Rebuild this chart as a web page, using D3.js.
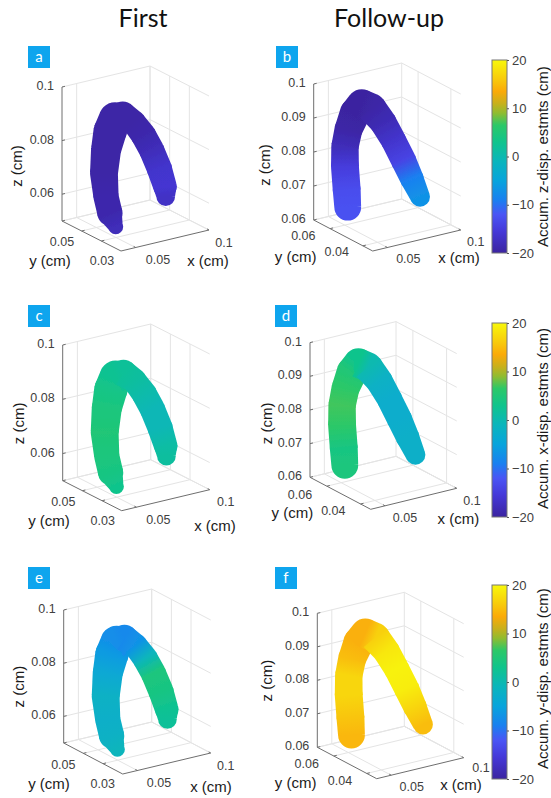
<!DOCTYPE html>
<html>
<head>
<meta charset="utf-8">
<script src="https://cdnjs.cloudflare.com/ajax/libs/d3/7.8.5/d3.min.js"></script>
<style>
  html, body { margin: 0; padding: 0; background: #fff; }
  svg { display: block; }
  text { font-family: "Liberation Sans", Arial, sans-serif; }
  .tick-label { font-size: 12.5px; fill: #404040; }
  .axis-label { font-size: 15px; fill: #1a1a1a; }
  .cbar-tick { font-size: 13px; fill: #404040; }
  .cbar-label { font-size: 15px; fill: #1a1a1a; }
  .head { font-family: Lato, sans-serif; font-size: 25px; fill: #111; }
  .badge-text { font-family: Lato, sans-serif; font-size: 15px; fill: #fff; }
</style>
</head>
<body>
<script>
// centreline of the vessel, cm
var firstX = [0.0565, 0.0526, 0.0499, 0.0485, 0.0499, 0.0526, 0.0560, 0.0613, 0.0685, 0.0753, 0.0810, 0.0862, 0.0901, 0.0906];
var firstY = [0.04, 0.04, 0.04, 0.04, 0.04, 0.04, 0.04, 0.04, 0.04, 0.04, 0.04, 0.04, 0.04, 0.04];
var firstZ = [0.0513, 0.0568, 0.0634, 0.0723, 0.0808, 0.0873, 0.0918, 0.0924, 0.0889, 0.0831, 0.0767, 0.0692, 0.0619, 0.0581];
var firstR = [0.0028, 0.0047, 0.0047, 0.0052, 0.0056, 0.0062, 0.0060, 0.0050, 0.0045, 0.0047, 0.0047, 0.0047, 0.0044, 0.0035];

var followX = [0.0431, 0.0424, 0.0412, 0.0412, 0.0435, 0.0480, 0.0526, 0.0594, 0.0669, 0.0741, 0.0810, 0.0867, 0.0924];
var followY = [0.052, 0.052, 0.052, 0.052, 0.052, 0.052, 0.052, 0.052, 0.052, 0.052, 0.052, 0.052, 0.052];
var followZ = [0.0680, 0.0731, 0.0801, 0.0860, 0.0907, 0.0951, 0.0974, 0.0954, 0.0907, 0.0846, 0.0780, 0.0720, 0.0660];
var followR = [0.0050, 0.0052, 0.0052, 0.0051, 0.0052, 0.0057, 0.0055, 0.0055, 0.0050, 0.0047, 0.0047, 0.0044, 0.0037];

// accumulated displacement at each centreline point, cm
var valuesA = [-18, -19, -19, -19.5, -19.5, -19.5, -19.5, -19.5, -19.5, -19, -18, -16.5, -16, -17];
var valuesB = [-12.5, -13, -15, -18, -19.5, -20, -20, -19.5, -18.5, -16.5, -14, -9, -7];
var valuesC = [3, 4, 4.5, 5, 4.5, 3.5, 2.5, 2, 1.5, 0.5, -0.5, -0.5, 1, 1.5];
var valuesD = [4.5, 4, 6.5, 7, 6.5, 5, 3, 0, -2, -3, -3, -2.5, -2.5];
var valuesE = [-1, -2, -2.5, -2, -4, -6, -7.5, -8, -7, -1, 4.5, 4, 2.5, 2];
var valuesF = [14.5, 15.5, 17, 17, 15, 14, 14, 16.5, 18.5, 19.5, 19, 17, 15];

var xDomain = [0.04, 0.1];
var yDomainFirst = [0.01, 0.07];
var yDomainFollow = [0.034, 0.07];
var zDomainFirst = [0.05, 0.1];
var zDomainFollow = [0.06, 0.1];

var xTicks = [0.05, 0.1];
var yTicksFirst = [0.03, 0.05, 0.07];
var yTicksFollow = [0.04, 0.06];
var zTicksFirst = [0.06, 0.08, 0.1];
var zTicksFollow = [0.06, 0.07, 0.08, 0.09, 0.1];
var cbarTicks = [-20, -10, 0, 10, 20];

var width = 551, height = 798;

// parula-like ramp as it appears in the colorbars
var cmapDomain = [-20, -15.5, -12, -9, -5, -1, 3, 6.5, 9, 11, 13.5, 16, 20];
var cmapRange = ['#3b24a0', '#4538d8', '#4a55f5', '#1a80f0', '#08a4dc', '#0ab5bc', '#10c48c', '#2cc868', '#90bc30', '#c8b01c', '#fbaa08', '#f8ca0c', '#f8f80a'];
var color = d3.scaleLinear().domain(cmapDomain).range(cmapRange).clamp(true);

var rScale = d3.scaleLinear().domain([0, 0.05]).range([0, 134]);

var first = { xs: firstX, ys: firstY, zs: firstZ, rs: firstR, yDomain: yDomainFirst, zDomain: zDomainFirst, yTicks: yTicksFirst, zTicks: zTicksFirst };
var follow = { xs: followX, ys: followY, zs: followZ, rs: followR, yDomain: yDomainFollow, zDomain: zDomainFollow, yTicks: yTicksFollow, zTicks: zTicksFollow };

// o = front floor corner, xv / yv = floor edges, zh = height of box
var panels = [
  { id: 'a', set: first, values: valuesA, o: [121, 251], xv: [88, -21], yv: [-59, -30], zh: 134, badge: [28, 46],
    yt: [[102, 261, '0.03'], [62, 242, '0.05']], xt: [[158, 260, '0.05'], [224, 243, '0.1']],
    yl: [50, 261], xl: [208, 261], zl: [17, 166] },
  { id: 'b', set: follow, values: valuesB, o: [372.7, 251], xv: [88, -21], yv: [-59, -31], zh: 136, badge: [276, 46],
    yt: [[336.7, 252, '0.04'], [303.3, 236, '0.06']], xt: [[408.3, 259, '0.05'], [475.7, 242, '0.1']],
    yl: [295.7, 256.7], xl: [459, 258.3], zl: [265, 165] },
  { id: 'c', set: first, values: valuesC, o: [121.7, 510.7], xv: [88, -21], yv: [-59, -30], zh: 135.7, badge: [28, 305],
    yt: [[102.7, 520.7, '0.03'], [63.3, 501.7, '0.05']], xt: [[158.3, 520, '0.05'], [225.7, 502.3, '0.1']],
    yl: [49, 521], xl: [215, 526], zl: [19.3, 423.3] },
  { id: 'd', set: follow, values: valuesD, o: [370.7, 509.3], xv: [86, -21], yv: [-60.7, -32], zh: 134.7, badge: [275, 305],
    yt: [[333.3, 510.7, '0.04'], [300, 495, '0.06']], xt: [[405, 517.7, '0.05'], [472, 500.7, '0.1']],
    yl: [292.3, 513.3], xl: [458.3, 518.7], zl: [267.3, 423.3] },
  { id: 'e', set: first, values: valuesE, o: [122.7, 774], xv: [88, -21], yv: [-59, -31], zh: 133, badge: [28, 567],
    yt: [[102.7, 784.3, '0.03'], [63.3, 765, '0.05']], xt: [[159, 783.3, '0.05'], [225.7, 766, '0.1']],
    yl: [49, 784.3], xl: [211, 787.3], zl: [19.3, 686.7] },
  { id: 'f', set: follow, values: valuesF, o: [376.7, 778.7], xv: [87, -21], yv: [-59.4, -31.4], zh: 134, badge: [275, 567],
    yt: [[340, 780.7, '0.04'], [306.7, 764.3, '0.06']], xt: [[411.7, 787.3, '0.05'], [481, 768, '0.1']],
    yl: [295.7, 783.3], xl: [461, 785], zl: [267.3, 680.7] }
];

var colorbars = [
  { top: 60, bottom: 253, label: 'Accum. z-disp. estmts (cm)', lx: 542.7, ly: 156.7 },
  { top: 323, bottom: 517, label: 'Accum. x-disp. estmts (cm)', lx: 542.7, ly: 418.5 },
  { top: 585, bottom: 779, label: 'Accum. y-disp. estmts (cm)', lx: 543.3, ly: 678.7 }
];

var svg = d3.select('body').append('svg').attr('width', width).attr('height', height);
var defs = svg.append('defs');

defs.append('filter').attr('id', 'soft')
    .attr('x', '-10%').attr('y', '-10%').attr('width', '120%').attr('height', '120%')
  .append('feGaussianBlur').attr('stdDeviation', 0.5);

svg.append('text').attr('class', 'head').attr('x', 143).attr('y', 27).attr('text-anchor', 'middle').text('First');
svg.append('text').attr('class', 'head').attr('x', 389).attr('y', 27).attr('text-anchor', 'middle').text('Follow-up');

panels.forEach(drawPanel);
colorbars.forEach(drawColorbar);

function drawPanel(p) {
  var set = p.set;
  var g = svg.append('g').attr('class', 'panel-' + p.id);

  var xs = d3.scaleLinear().domain(xDomain).range([0, 1]);
  var ys = d3.scaleLinear().domain(set.yDomain).range([0, 1]);
  var zs = d3.scaleLinear().domain(set.zDomain).range([0, p.zh]);

  // data -> screen
  function project(x, y, z) {
    return [
      p.o[0] + xs(x) * p.xv[0] + ys(y) * p.yv[0],
      p.o[1] + xs(x) * p.xv[1] + ys(y) * p.yv[1] - zs(z)
    ];
  }

  var x0 = xDomain[0], x1 = xDomain[1];
  var y0 = set.yDomain[0], y1 = set.yDomain[1];
  var z0 = set.zDomain[0], z1 = set.zDomain[1];

  function seg(a, b, stroke, w) {
    g.append('line')
      .attr('x1', a[0]).attr('y1', a[1])
      .attr('x2', b[0]).attr('y2', b[1])
      .attr('stroke', stroke).attr('stroke-width', w);
  }

  var gridColor = '#e4e4e4';

  // back walls and floor grid
  set.zTicks.concat([z0]).forEach(function(z) {
    seg(project(x0, y1, z), project(x1, y1, z), gridColor, 1);
    seg(project(x1, y1, z), project(x1, y0, z), gridColor, 1);
  });
  xTicks.forEach(function(x) {
    seg(project(x, y1, z0), project(x, y1, z1), gridColor, 1);
    seg(project(x, y1, z0), project(x, y0, z0), gridColor, 1);
  });
  set.yTicks.forEach(function(y) {
    seg(project(x1, y, z0), project(x1, y, z1), gridColor, 1);
    seg(project(x0, y, z0), project(x1, y, z0), gridColor, 1);
  });

  // dark axis lines
  var axisColor = '#6e6e6e';
  seg(project(x0, y1, z0), project(x0, y1, z1), axisColor, 1);
  seg(project(x0, y1, z0), project(x0, y0, z0), axisColor, 1);
  seg(project(x0, y0, z0), project(x1, y0, z0), axisColor, 1);

  // tick marks
  set.zTicks.forEach(function(z) {
    var a = project(x0, y1, z);
    seg(a, [a[0] + 3, a[1] - 0.7], axisColor, 1);
    g.append('text').attr('class', 'tick-label')
      .attr('x', a[0] - 8).attr('y', a[1] + 3)
      .attr('text-anchor', 'end').text(d3.format('.2~f')(z));
  });
  set.yTicks.forEach(function(y) {
    var a = project(x0, y, z0);
    seg(a, [a[0] + 3, a[1] - 0.7], axisColor, 1);
  });
  xTicks.forEach(function(x) {
    var a = project(x, y0, z0);
    seg(a, [a[0] - 2, a[1] - 1.1], axisColor, 1);
  });

  p.yt.concat(p.xt).forEach(function(t) {
    g.append('text').attr('class', 'tick-label')
      .attr('x', t[0]).attr('y', t[1] + 4)
      .attr('text-anchor', 'middle').text(t[2]);
  });

  g.append('text').attr('class', 'axis-label').attr('x', p.yl[0]).attr('y', p.yl[1] + 5)
    .attr('text-anchor', 'middle').text('y (cm)');
  g.append('text').attr('class', 'axis-label').attr('x', p.xl[0]).attr('y', p.xl[1] + 5)
    .attr('text-anchor', 'middle').text('x (cm)');
  g.append('text').attr('class', 'axis-label')
    .attr('transform', 'translate(' + (p.zl[0] + 5) + ',' + p.zl[1] + ') rotate(-90)')
    .attr('text-anchor', 'middle').text('z (cm)');

  // vessel: tapered pieces between centreline points, coloured by displacement
  var pts = set.xs.map(function(x, i) {
    var q = project(x, set.ys[i], set.zs[i]);
    return { x: q[0], y: q[1], r: rScale(set.rs[i]), v: p.values[i] };
  });

  var tube = g.append('g').attr('filter', 'url(#soft)');

  d3.pairs(pts).forEach(function(pair, i) {
    var a = pair[0], b = pair[1];
    var gid = 'grad-' + p.id + '-' + i;
    var lg = defs.append('linearGradient').attr('id', gid)
      .attr('gradientUnits', 'userSpaceOnUse')
      .attr('x1', a.x).attr('y1', a.y).attr('x2', b.x).attr('y2', b.y);
    lg.append('stop').attr('offset', 0).attr('stop-color', color(a.v));
    lg.append('stop').attr('offset', 1).attr('stop-color', color(b.v));

    var dx = b.x - a.x, dy = b.y - a.y, len = Math.hypot(dx, dy);
    var nx = -dy / len, ny = dx / len;
    // quad wound the same way as the arcs, so the overlaps stay filled
    var d = d3.path();
    d.moveTo(a.x - nx * a.r, a.y - ny * a.r);
    d.lineTo(b.x - nx * b.r, b.y - ny * b.r);
    d.lineTo(b.x + nx * b.r, b.y + ny * b.r);
    d.lineTo(a.x + nx * a.r, a.y + ny * a.r);
    d.closePath();
    // back cap only on the first piece, otherwise it paints a seam over the one before
    if (i === 0) {
      d.moveTo(a.x + a.r, a.y);
      d.arc(a.x, a.y, a.r, 0, 2 * Math.PI);
    }
    d.moveTo(b.x + b.r, b.y);
    d.arc(b.x, b.y, b.r, 0, 2 * Math.PI);
    tube.append('path').attr('d', d.toString())
      .attr('fill', 'url(#' + gid + ')')
      .attr('fill-rule', 'nonzero');
  });

  // letter badge
  svg.append('rect').attr('x', p.badge[0]).attr('y', p.badge[1])
    .attr('width', 22).attr('height', 22).attr('fill', '#0ea5ee');
  svg.append('text').attr('class', 'badge-text')
    .attr('x', p.badge[0] + 11).attr('y', p.badge[1] + 15.5)
    .attr('text-anchor', 'middle').text(p.id);
}

function drawColorbar(c) {
  var barLeft = 492, barWidth = 15;
  var y = d3.scaleLinear().domain([-20, 20]).range([c.bottom, c.top]);
  var gid = 'cbar-' + c.top;
  var lg = defs.append('linearGradient').attr('id', gid)
    .attr('x1', 0).attr('y1', 1).attr('x2', 0).attr('y2', 0);
  cmapDomain.forEach(function(v, i) {
    lg.append('stop').attr('offset', (v + 20) / 40).attr('stop-color', cmapRange[i]);
  });

  svg.append('rect').attr('x', barLeft).attr('y', c.top)
    .attr('width', barWidth).attr('height', c.bottom - c.top)
    .attr('fill', 'url(#' + gid + ')')
    .attr('stroke', '#777').attr('stroke-width', 1);

  var axis = d3.axisRight(y).tickValues(cbarTicks).tickSize(2).tickPadding(3).tickFormat(d3.format('d'));
  var ag = svg.append('g').attr('transform', 'translate(' + (barLeft + barWidth) + ',0)').call(axis);
  ag.select('.domain').remove();
  ag.selectAll('.tick line').attr('stroke', '#555');
  ag.selectAll('.tick text').attr('class', 'cbar-tick').attr('font-family', null).attr('font-size', null).attr('fill', null);

  svg.append('text').attr('class', 'cbar-label')
    .attr('transform', 'translate(' + (c.lx + 5) + ',' + c.ly + ') rotate(-90)')
    .attr('text-anchor', 'middle').text(c.label);
}
</script>
</body>
</html>
